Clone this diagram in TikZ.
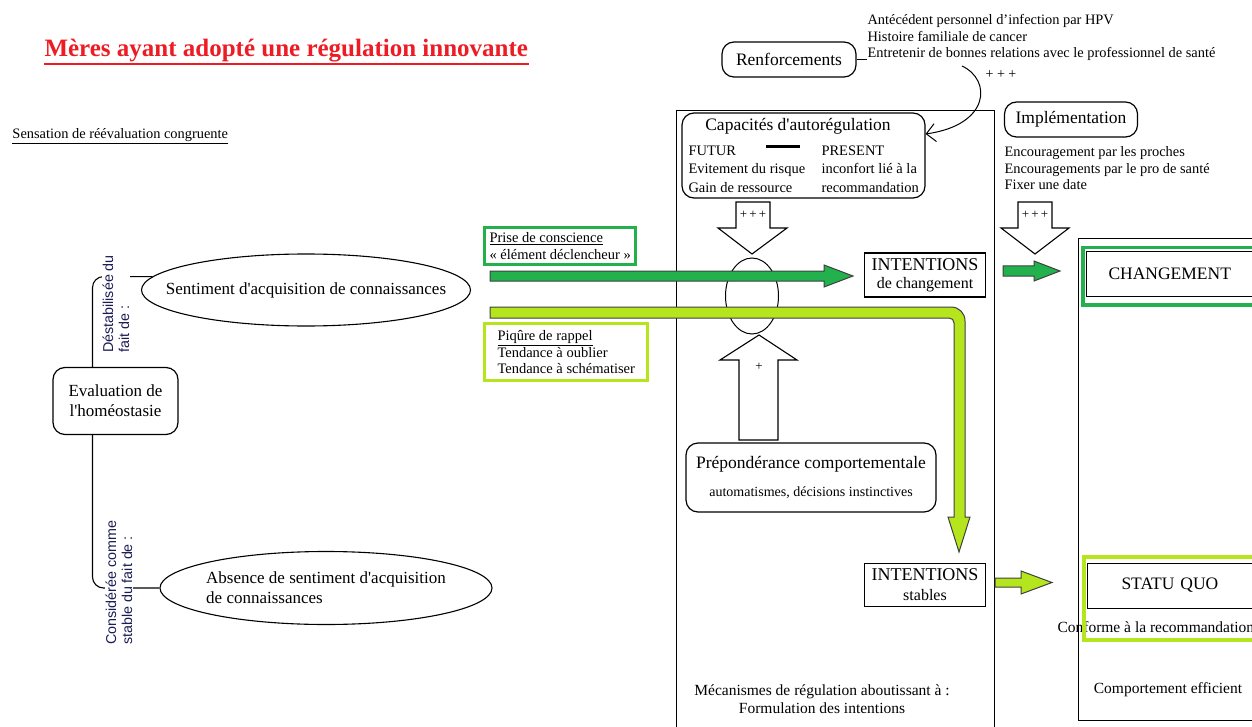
\documentclass[tikz,border=0pt]{standalone}
\usepackage{fontspec}
\setmainfont{Liberation Serif}
\newfontfamily\rotsans{Liberation Sans}
\usetikzlibrary{shapes.geometric, arrows, arrows.meta, calc}

\definecolor{darkgreen}{RGB}{34,177,76}
\definecolor{lightgreen}{RGB}{181,230,29}
\definecolor{navyblue}{RGB}{28,28,84}
\definecolor{titlered}{RGB}{237,28,36}

\newcommand{\fsz}[2]{\fontsize{#1}{#2}\selectfont}

\tikzstyle{roundbox} = [rectangle, rounded corners=12, draw, line width=1.2, align=center, inner sep=0pt, font=\fsz{17.5}{20}]
\tikzstyle{oval} = [ellipse, draw, line width=1.1, inner sep=0pt]
\tikzstyle{intent} = [rectangle, draw, line width=1.1, align=center, inner sep=0pt]
\tikzstyle{listtext} = [align=left, inner sep=0pt, font=\fsz{14.4}{16.5}]
\tikzstyle{sidelabel} = [rotate=90, align=left, fill=white, inner sep=1pt, text=navyblue, font=\rotsans\fsz{14.3}{16}]
\tikzstyle{hollow} = [draw, fill=white, line width=1.1]
\tikzstyle{darkarrow} = [draw=black!75, fill=darkgreen, line width=1]
\tikzstyle{lightarrow} = [draw=black!75, fill=lightgreen, line width=1]
\tikzstyle{link} = [line width=1.1, rounded corners=11]

\begin{document}
\begin{tikzpicture}[x=1pt, y=-1pt, line width=1pt]
\useasboundingbox (0,0) rectangle (1252,727);

% titles
\node[anchor=base west, inner sep=0pt, text=titlered, font=\bfseries\fsz{25}{28}] (title) at (44,57) {Mères ayant adopté une régulation innovante};
\draw[titlered, line width=1.8] ([yshift=-1]title.south west) -- ([yshift=-1]title.south east);
\node[anchor=base west, inner sep=0pt, font=\fsz{14.4}{16}] (sensation) at (12,139) {\underline{Sensation de réévaluation congruente}};

% left part
\node[roundbox, minimum width=125, minimum height=67, font=\fsz{17}{20}] (eval) at (115.5,401) {Evaluation de\\l\textquotesingle homéostasie};
\node[oval, minimum width=329, minimum height=72] (sak) at (306,290) {};
\node[font=\fsz{17}{20}] (saktext) at (sak) {Sentiment d\textquotesingle acquisition de connaissances};
\node[oval, minimum width=332, minimum height=73] (absent) at (326,588) {};
\node[align=left, font=\fsz{17}{20}] (absenttext) at (absent) {Absence de sentiment d\textquotesingle acquisition\\de connaissances};

\draw[link] ($(eval.north)+(-23,0)$) |- (sak.175);
\draw[link] ($(eval.south)+(-23,0)$) |- (absent.west);
\node[sidelabel] (destab) at (116,304) {Déstabilisée du\\fait de :};
\node[sidelabel] (stable) at (119,583) {Considérée comme\\stable du fait de :};

% central frame
\node[draw, line width=1.2, minimum width=318, minimum height=640, anchor=north west] (meca) at (676,110) {};
\node[align=center, font=\fsz{15.5}{18}] (mecatext) at (822,699) {Mécanismes de régulation aboutissant à :\\Formulation des intentions};

% green boxes
\node[draw=darkgreen, line width=3, align=left, anchor=north west, inner sep=5, font=\fsz{14.5}{17}] (prise) at (483,226) {\underline{Prise de conscience}\\« élément déclencheur »};
\node[draw=lightgreen, line width=3, align=left, anchor=north west, inner xsep=13, inner ysep=7, font=\fsz{14.5}{16.5}] (piqure) at (483,322) {\underline{Piqûre de rappel}\\Tendance à oublier\\Tendance à schématiser};

% Capacites
\node[roundbox, minimum width=243, minimum height=85] (capa) at (803.5,155.5) {};
\node[font=\fsz{17.5}{20}] (capatitle) at (798,126) {Capacités d\textquotesingle autorégulation};
\node[listtext, anchor=west, font=\fsz{14.5}{18.5}] (futur) at (688,169) {FUTUR\\Evitement du risque\\Gain de ressource};
\node[listtext, anchor=west, font=\fsz{14.5}{18.5}] (present) at (821,169) {PRESENT\\inconfort lié à la\\recommandation};
\node[fill=black, minimum width=34, minimum height=3, inner sep=0pt] (dash) at (783,147) {};

% Renforcements
\node[roundbox, minimum width=134, minimum height=35] (renf) at (789,59.5) {Renforcements};
\node[listtext, anchor=west] (renflist) at (867,37.5) {Antécédent personnel d’infection par HPV\\Histoire familiale de cancer\\Entretenir de bonnes relations avec le professionnel de santé};
\draw (renf.east) -- (renf.east -| renflist.west);
\node[font=\fsz{14}{16}] (renfplus) at (1001,75) {+ + +};
\coordinate (bend) at (962,66);
\draw[-{Straight Barb[length=9, width=18]}] (bend) .. controls (992,80) and (990,125) .. (capa.10);

% gate and hollow arrows
\node[draw, ellipse, minimum width=53, minimum height=76, inner sep=0pt] (gate) at (752,296) {};
\draw[hollow] (736,202) -- (770,202) -- (770,228) -- (787,228) -- (752,254) -- (718,228) -- (736,228) -- cycle;
\node[font=\fsz{13}{15}] (capaplus) at (753,215) {+\,+\,+};
\draw[hollow] (759,335) -- (797,360) -- (778,360) -- (778,440) -- (739,440) -- (739,360) -- (720,360) -- cycle;
\node[font=\fsz{13}{15}] (prepplus) at (759,367) {+};

% Preponderance
\node[roundbox, minimum width=250, minimum height=69] (prep) at (811,477.5) {Prépondérance comportementale\\[8pt]{\fsz{14}{16}automatismes, décisions instinctives}};

% intentions
\node[intent, minimum width=121, minimum height=44, font=\fsz{18}{18}] (intchg) at (925,275) {INTENTIONS\\{\fsz{16}{18}de changement}};
\node[intent, minimum width=121, minimum height=43, font=\fsz{18}{20}] (intstab) at (925,585) {INTENTIONS\\{\fsz{16}{18}stables}};

% green arrows
\draw[darkarrow] (490,271) -- (824,271) -- (824,265) -- (853,276) -- (824,287) -- (824,281) -- (490,281) -- cycle;
\draw[lightarrow] (490,307) -- (951,307) .. controls (959,307) and (965,313) .. (965,321) -- (965,517) -- (970,517) -- (959,552) -- (948,517) -- (954,517) -- (954,323) .. controls (954,320) and (952,318) .. (949,318) -- (490,318) -- cycle;
\draw[darkarrow] (1003,266) -- (1034,266) -- (1034,261) -- (1060,271) -- (1034,281) -- (1034,276) -- (1003,276) -- cycle;
\draw[lightarrow] (995,578) -- (1021,578) -- (1021,571) -- (1052,582.5) -- (1021,594) -- (1021,587) -- (995,587) -- cycle;

% Implementation
\node[roundbox, minimum width=133, minimum height=35] (impl) at (1071,119.5) {Implémentation};
\node[listtext, anchor=west] (impllist) at (1004,168.5) {Encouragement par les proches\\Encouragements par le pro de santé\\Fixer une date};
\draw[hollow] (1018,202) -- (1052,202) -- (1052,228) -- (1069,228) -- (1035,254) -- (1001,228) -- (1018,228) -- cycle;
\node[font=\fsz{13}{15}] (implplus) at (1035,215) {+\,+\,+};

% right column
\node[draw, line width=1.2, minimum width=200, minimum height=482, anchor=north west] (result) at (1078,238) {};
\node[draw=darkgreen, line width=3.5, minimum width=200, minimum height=57, anchor=north west] (chgframe) at (1081,246) {};
\node[draw, anchor=west, minimum height=44, inner xsep=22, align=left, text width=200, font=\fsz{17.5}{20}] (chg) at (1086,274) {CHANGEMENT};
\node[anchor=west, inner sep=0pt, font=\fsz{15.5}{18}] (conforme) at (1057,627) {Conforme à la recommandation};
\node[draw=lightgreen, line width=3.5, minimum width=200, minimum height=83, anchor=north west] (sqframe) at (1082,555) {};
\node[draw, anchor=west, minimum height=45, inner xsep=34, align=left, text width=200, font=\fsz{17.5}{20}] (statu) at (1087,585.5) {STATU QUO};
\node[font=\fsz{15.5}{18}] (efficient) at (1168,690) {Comportement efficient};
\end{tikzpicture}
\end{document}
